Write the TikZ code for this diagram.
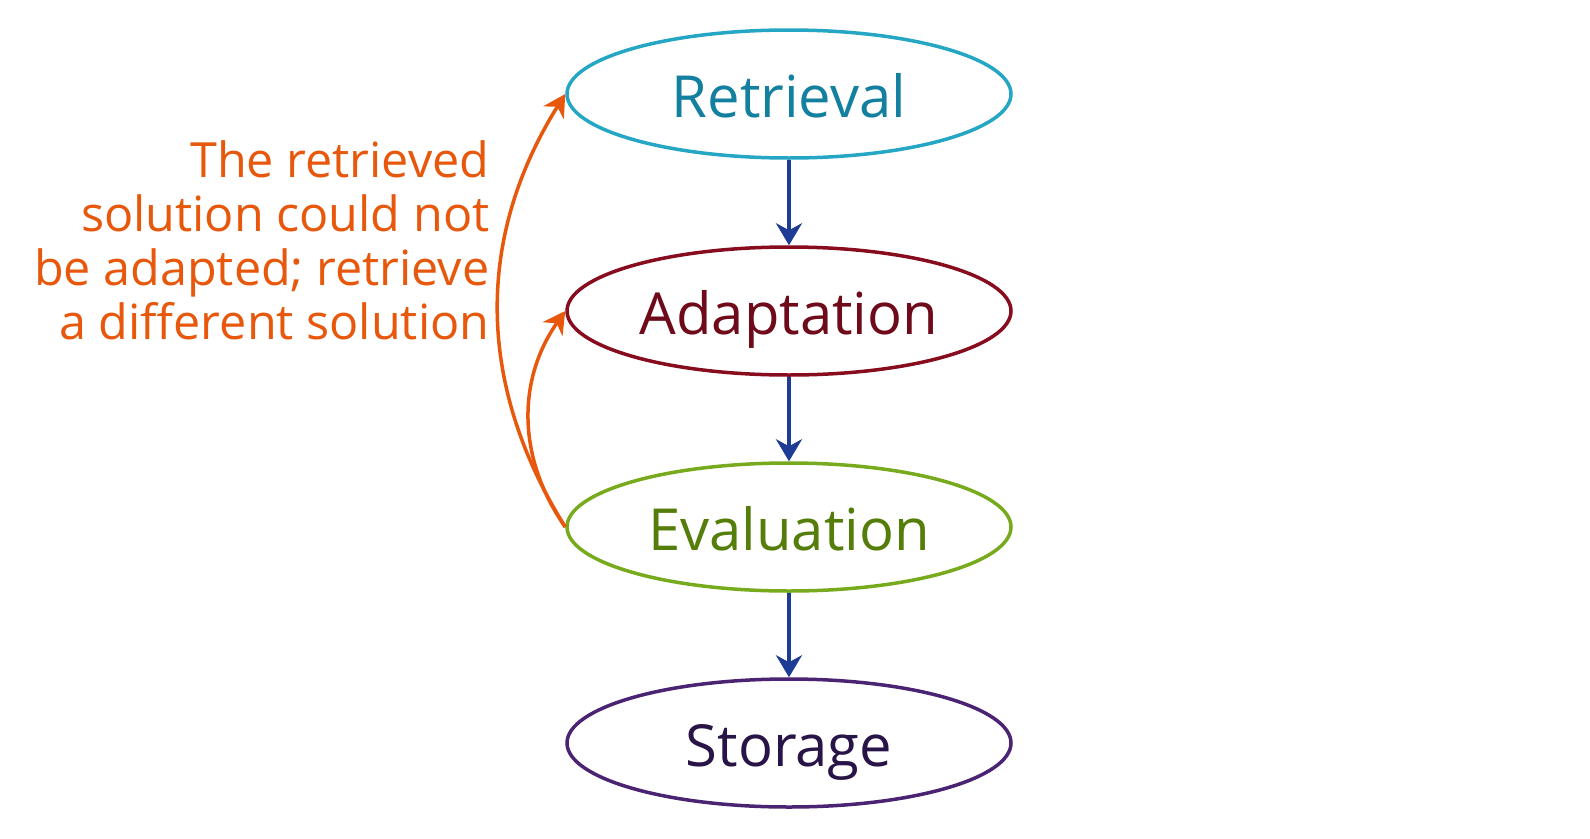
\documentclass[tikz,border=0pt]{standalone}
\usepackage{fontspec}
\setmainfont{Open Sans}
\usetikzlibrary{shapes.geometric,arrows.meta}

\definecolor{retcol}{RGB}{36,166,196}
\definecolor{rettxt}{RGB}{20,128,160}
\definecolor{adacol}{RGB}{135,12,30}
\definecolor{adatxt}{RGB}{110,10,25}
\definecolor{evacol}{RGB}{120,170,30}
\definecolor{evatxt}{RGB}{85,125,10}
\definecolor{stocol}{RGB}{75,35,115}
\definecolor{stotxt}{RGB}{40,20,70}
\definecolor{downcol}{RGB}{30,60,150}
\definecolor{loopcol}{RGB}{232,88,12}

\tikzset{
  stage/.style={ellipse,draw=#1,line width=3.5pt,minimum width=444pt,minimum height=128pt,inner sep=0pt,
    text height=46pt,text depth=0pt,font=\fontsize{58}{64}\selectfont},
  down/.style={draw=downcol,line width=4pt,-{Stealth[length=22pt,width=26pt,inset=7pt]}},
  back/.style={draw=loopcol,line width=3.5pt,-{Stealth[length=22pt,width=24pt,inset=7pt]}}
}

\begin{document}
\begin{tikzpicture}[x=1pt,y=-1pt]
\useasboundingbox[fill=white] (0,0) rectangle (1590,838);

\node[stage=retcol,text=rettxt] (ret) at (789,94) {Retrieval};
\node[stage=adacol,text=adatxt] (ada) at (789,311) {Adaptation};
\node[stage=evacol,text=evatxt] (eva) at (789,527) {Evaluation};
\node[stage=stocol,text=stotxt] (sto) at (789,743) {Storage};

\draw[down] (ret) -- (ada);
\draw[down] (ada) -- (eva);
\draw[down] (eva) -- (sto);

% failed adaptation goes back
\draw[back] (eva.west) to[out=122,in=238] (ret.west);
\draw[back] (eva.west) to[out=125,in=235] (ada.west);

\node[text=loopcol,align=right,anchor=east,font=\fontsize{48.5}{54}\selectfont] (why) at (493,240)
  {The retrieved\\solution could not\\be adapted; retrieve\\a different solution};
\end{tikzpicture}
\end{document}
